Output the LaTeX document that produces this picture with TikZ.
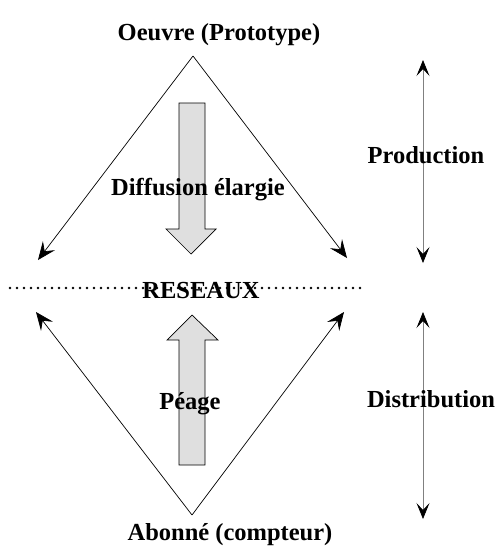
\documentclass[tikz,border=0pt]{standalone}
\usepackage{fontspec}
\setmainfont{Liberation Serif}
\usetikzlibrary{arrows.meta}
\begin{document}
\begin{tikzpicture}[x=1pt,y=-1pt,
  lbl/.style={inner sep=0pt,anchor=base,font=\bfseries\fontsize{24.5}{28}\selectfont},
  vline/.style={line width=0.7pt,-{Stealth[length=18pt,width=15pt,inset=7pt]}},
  side/.style={gray,line width=0.8pt,{Stealth[length=16pt,width=13pt,inset=7pt,black]}-{Stealth[length=16pt,width=13pt,inset=7pt,black]}},
  fat/.style={draw=black,fill=gray!25,line width=0.7pt}]
\useasboundingbox (0,0) rectangle (496,546);
% dotted network line
\coordinate (dl) at (10,288);
\coordinate (dr) at (365,288);
\draw[line width=2.8pt,line cap=round,dash pattern=on 0pt off 7pt] (dl) -- (dr);
% fat arrows
\draw[fat] (179,103) -- (205,103) -- (205,229) -- (216,229) -- (191,254) -- (166,229) -- (179,229) -- cycle;
\draw[fat] (179,465) -- (205,465) -- (205,340) -- (218,340) -- (192,315) -- (167,340) -- (179,340) -- cycle;
% apexes and tips
\coordinate (top) at (193,56);
\coordinate (bot) at (192,515);
\coordinate (tl) at (38,260);
\coordinate (tr) at (347,258);
\coordinate (bl) at (36,312);
\coordinate (br) at (344,312);
\draw[vline] (top) -- (tl);
\draw[vline] (top) -- (tr);
\draw[vline] (bot) -- (bl);
\draw[vline] (bot) -- (br);
% side arrows
\coordinate (p1) at (423,60);
\coordinate (p2) at (423,263);
\coordinate (d1) at (423,312);
\coordinate (d2) at (423,519);
\draw[side] (p1) -- (p2);
\draw[side] (d1) -- (d2);
% labels
\node[lbl] (oeuvre) at (219,40) {Oeuvre (Prototype)};
\node[lbl] (diff) at (198,195) {Diffusion élargie};
\node[lbl] (res) at (201,298) {RESEAUX};
\node[lbl] (peage) at (190,409) {Péage};
\node[lbl] (abonne) at (230,540) {Abonné (compteur)};
\node[lbl] (prod) at (426,163) {Production};
\node[lbl] (dist) at (431,407) {Distribution};
\end{tikzpicture}
\end{document}
